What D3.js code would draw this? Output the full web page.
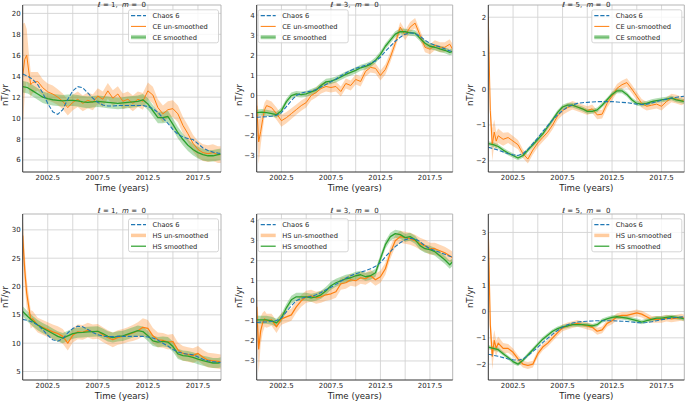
<!DOCTYPE html>
<html><head><meta charset="utf-8">
<script src="https://cdn.jsdelivr.net/npm/d3@7"></script>
<style>
body{margin:0;background:#fff;}
svg{display:block;font-family:"DejaVu Sans",sans-serif;}
text{white-space:pre;}
</style>
</head><body>
<svg id="c" width="685" height="401"></svg>
<script>
// ---------------- DATA ----------------
const tS = [2000,2000.5,2001,2001.5,2002,2002.5,2003,2003.5,2004,2004.5,
  2005,2005.5,2006,2006.5,2007,2007.5,2008,2008.5,2009,2009.5,
  2010,2010.5,2011,2011.5,2012,2012.5,2013,2013.5,2014,2014.5,
  2015,2015.5,2016,2016.5,2017,2017.5,2018,2018.5,2019,2019.5,2019.8];
const tU = [2000,2000.2,2000.4,2000.6,2000.8,
  2001,2001.5,2002,2002.5,2003,2003.5,2004,2004.5,2005,2005.5,
  2006,2006.5,2007,2007.5,2008,2008.5,2009,2009.5,2010,2010.5,
  2011,2011.5,2012,2012.5,2013,2013.5,2014,2014.5,2015,2015.5,
  2016,2016.5,2017,2017.5,2018,2018.5,2019,2019.5,2019.8];

const xTickLabels = [2002.5, 2007.5, 2012.5, 2017.5];
const xGridYears = [2002.5, 2005, 2007.5, 2010, 2012.5, 2015, 2017.5];

// Chaos 6 model
const chaosL1 = [14.2,14.0,13.7,13.2,12.4,11.4,10.6,10.35,10.8,11.8,
  12.6,13.0,12.9,12.4,11.9,11.5,11.25,11.15,11.15,11.2,
  11.2,11.2,11.2,11.2,11.2,11.1,10.9,10.55,10.0,9.5,
  8.9,8.45,8.2,8.05,7.95,7.55,7.15,6.9,6.75,6.65,6.6];
const chaosL3 = [-1.08,-1.06,-1.05,-1.03,-0.98,-0.85,-0.55,-0.25,0.0,0.12,
  0.18,0.22,0.3,0.42,0.55,0.68,0.82,0.98,1.12,1.25,
  1.35,1.43,1.5,1.6,1.72,1.9,2.2,2.45,2.7,2.9,
  3.05,3.12,3.08,2.95,2.75,2.6,2.5,2.42,2.32,2.22,2.18];
const chaosL5 = [-1.62,-1.66,-1.7,-1.75,-1.8,-1.83,-1.85,-1.8,-1.68,-1.52,
  -1.36,-1.18,-1.02,-0.86,-0.72,-0.6,-0.5,-0.44,-0.4,-0.38,
  -0.37,-0.36,-0.35,-0.35,-0.35,-0.35,-0.36,-0.37,-0.38,-0.4,
  -0.42,-0.43,-0.42,-0.39,-0.35,-0.31,-0.28,-0.25,-0.23,-0.21,-0.2];

// CE (top row)
const ceRawL1 = [14.0,15.6,16.0,14.5,13.2,
  13.4,13.5,12.9,12.5,12.3,12.0,11.6,11.0,11.5,11.8,
  11.4,11.7,11.5,12.1,11.8,12.6,11.9,12.3,11.6,11.8,
  11.4,11.8,11.6,12.6,12.2,11.0,10.4,10.8,10.9,10.4,
  9.3,8.5,7.6,7.0,6.7,6.6,6.7,6.5,6.5];
const ceRawErrL1 = [5.0,3.5,2.5,1.8,1.2,
  1.0,0.9,0.8,0.8,0.8,0.75,0.75,0.75,0.75,0.75,
  0.75,0.75,0.75,0.75,0.75,0.75,0.75,0.75,0.75,0.75,
  0.75,0.75,0.8,0.8,0.8,0.8,0.8,0.8,0.8,0.8,
  0.8,0.8,0.8,0.8,0.8,0.8,0.8,0.8,0.8];
const ceSmoothL1 = [13.0,12.9,12.6,12.3,12.0,11.85,11.75,11.7,11.65,11.7,
  11.7,11.65,11.55,11.5,11.55,11.6,11.55,11.5,11.45,11.4,
  11.45,11.5,11.55,11.6,11.75,11.35,10.7,10.05,10.05,10.15,
  9.4,8.6,7.95,7.4,7.0,6.7,6.5,6.4,6.4,6.5,6.55];

const ceRawL3 = [-0.5,-2.3,-1.8,-1.2,-0.7,
  -0.5,-0.6,-0.9,-1.25,-1.1,-0.9,-0.7,-0.5,-0.35,0.0,
  0.15,0.35,0.45,0.4,0.45,0.2,0.6,0.5,0.8,0.7,
  1.2,1.4,1.35,1.0,1.3,1.9,2.6,3.4,3.0,3.4,
  3.6,3.0,2.4,2.3,2.5,2.4,2.4,2.55,2.3];
const ceRawErrL3 = [1.2,1.1,0.7,0.5,0.35,
  0.3,0.3,0.3,0.3,0.28,0.27,0.26,0.25,0.25,0.25,
  0.25,0.25,0.25,0.25,0.25,0.25,0.25,0.25,0.25,0.25,
  0.25,0.25,0.25,0.25,0.25,0.25,0.25,0.25,0.25,0.25,
  0.25,0.25,0.25,0.25,0.25,0.25,0.25,0.25,0.25];
const ceSmoothL3 = [-0.85,-0.82,-0.85,-0.9,-0.95,-0.75,-0.3,0.0,0.08,0.05,
  0.08,0.18,0.27,0.5,0.68,0.72,0.8,0.92,1.05,1.15,
  1.25,1.38,1.45,1.55,1.75,2.05,2.45,2.75,3.05,3.18,
  3.17,3.12,3.1,2.85,2.6,2.45,2.4,2.32,2.25,2.15,2.2];

const ceRawL5 = [2.0,-0.6,-1.55,-1.2,-1.45,
  -1.3,-1.4,-1.35,-1.45,-1.55,-1.8,-1.95,-1.7,-1.5,-1.35,
  -1.2,-1.0,-0.75,-0.6,-0.52,-0.45,-0.5,-0.55,-0.6,-0.55,
  -0.72,-0.7,-0.4,-0.2,0.02,0.12,0.18,0.0,-0.2,-0.4,
  -0.48,-0.45,-0.42,-0.48,-0.35,-0.25,-0.28,-0.33,-0.3];
const ceRawErrL5 = [0.3,0.4,0.45,0.35,0.25,
  0.2,0.18,0.15,0.14,0.13,0.12,0.12,0.12,0.12,0.12,
  0.12,0.12,0.12,0.12,0.12,0.12,0.12,0.12,0.12,0.12,
  0.12,0.12,0.12,0.12,0.12,0.12,0.12,0.12,0.12,0.12,
  0.12,0.12,0.12,0.12,0.12,0.12,0.12,0.12,0.12];
const ceSmoothL5 = [-1.52,-1.55,-1.6,-1.7,-1.78,-1.85,-1.92,-1.85,-1.7,-1.55,
  -1.4,-1.25,-1.05,-0.85,-0.65,-0.5,-0.45,-0.45,-0.5,-0.55,
  -0.62,-0.62,-0.58,-0.45,-0.3,-0.15,-0.05,-0.05,-0.15,-0.3,
  -0.4,-0.42,-0.4,-0.35,-0.32,-0.3,-0.28,-0.25,-0.3,-0.33,-0.35];
const ceSmoothErr = [0.55, 0.15, 0.065];

// HS (bottom row)
const hsRawL1 = [29.0,23.0,18.8,16.5,14.2,
  14.3,13.2,12.8,12.4,12.0,11.7,11.2,10.0,11.4,12.0,
  11.9,12.3,12.0,12.1,11.5,11.0,10.6,11.0,11.2,11.5,
  11.8,12.2,12.8,12.6,11.3,10.6,10.5,10.2,10.3,8.8,
  8.2,8.0,7.8,8.2,7.5,7.0,6.9,6.8,6.7];
const hsRawErrL1 = [3.5,3.0,2.5,2.0,1.6,
  1.4,1.3,1.3,1.3,1.3,1.3,1.3,1.3,1.3,1.3,
  1.3,1.3,1.3,1.3,1.3,1.3,1.3,1.3,1.3,1.3,
  1.4,1.5,1.6,1.5,1.4,1.3,1.3,1.3,1.3,1.3,
  1.3,1.3,1.3,1.3,1.3,1.3,1.3,1.3,1.3];
const hsSmoothL1 = [15.6,14.7,13.9,13.2,12.65,12.2,11.7,11.2,10.9,11.3,
  11.7,11.85,11.9,12.0,12.05,12.1,11.7,11.2,11.0,11.2,
  11.3,11.6,11.9,12.2,12.05,11.3,10.4,10.2,10.3,10.2,
  9.4,8.1,7.8,7.7,7.5,7.2,6.9,6.7,6.5,6.5,6.6];

const hsRawL3 = [-0.3,-2.4,-1.5,-1.1,-0.9,
  -1.0,-0.95,-1.3,-0.9,-0.8,-0.7,-0.3,0.0,0.2,0.25,
  0.15,0.2,0.3,0.35,0.45,0.85,0.9,1.05,1.0,1.15,
  1.1,1.25,1.05,1.2,1.6,2.4,3.0,3.2,3.15,3.1,
  3.0,2.85,2.75,2.6,2.6,2.5,2.4,2.25,2.15];
const hsRawErrL3 = [1.3,1.2,0.7,0.5,0.4,
  0.35,0.3,0.3,0.3,0.3,0.3,0.3,0.3,0.3,0.3,
  0.3,0.3,0.3,0.3,0.3,0.3,0.3,0.3,0.3,0.3,
  0.3,0.3,0.3,0.3,0.3,0.3,0.3,0.3,0.3,0.3,
  0.3,0.3,0.3,0.3,0.3,0.3,0.3,0.3,0.3];
const hsSmoothL3 = [-0.95,-0.95,-0.95,-1.0,-1.1,-0.85,-0.35,0.05,0.2,0.2,
  0.2,0.15,0.2,0.3,0.5,0.75,0.9,1.0,1.1,1.15,
  1.25,1.3,1.2,1.25,1.4,2.1,2.8,3.2,3.35,3.3,
  3.15,3.2,3.05,2.75,2.6,2.55,2.45,2.25,2.05,1.8,1.95];

const hsRawL5 = [3.0,-0.5,-1.7,-1.1,-1.4,
  -1.2,-1.4,-1.4,-1.55,-1.8,-2.0,-2.05,-2.0,-1.6,-1.35,
  -1.2,-1.0,-0.8,-0.62,-0.55,-0.5,-0.45,-0.5,-0.55,-0.6,
  -0.75,-0.7,-0.45,-0.35,-0.2,-0.15,-0.15,-0.1,-0.05,-0.1,
  -0.2,-0.3,-0.3,-0.3,-0.25,-0.28,-0.25,-0.22,-0.25];
const hsRawErrL5 = [0.3,0.45,0.5,0.4,0.3,
  0.25,0.2,0.17,0.15,0.14,0.13,0.13,0.13,0.13,0.13,
  0.13,0.13,0.13,0.13,0.13,0.13,0.13,0.13,0.13,0.13,
  0.13,0.13,0.13,0.13,0.13,0.13,0.13,0.13,0.13,0.13,
  0.13,0.13,0.13,0.13,0.13,0.13,0.13,0.13,0.13];
const hsSmoothL5 = [-1.35,-1.4,-1.45,-1.6,-1.75,-1.9,-2.0,-1.85,-1.65,-1.45,
  -1.25,-1.05,-0.9,-0.75,-0.65,-0.58,-0.55,-0.5,-0.5,-0.5,
  -0.52,-0.55,-0.5,-0.35,-0.28,-0.22,-0.2,-0.22,-0.25,-0.3,
  -0.35,-0.4,-0.35,-0.3,-0.25,-0.25,-0.22,-0.2,-0.22,-0.25,-0.28];
const hsSmoothErr = [0.9, 0.2, 0.08];

const yTicksTopL1 = [6,8,10,12,14,16,18,20];
const yTicksTopL3 = [-3,-2,-1,0,1,2,3,4];
const yTicksTopL5 = [-2,-1,0,1,2];
const yTicksBotL1 = [5,10,15,20,25,30];
const yTicksBotL3 = [-3,-2,-1,0,1,2,3,4];
const yTicksBotL5 = [-2,-1,0,1,2,3];

const degrees = [1, 3, 5];
const legendCE = ["Chaos 6", "CE un-smoothed", "CE smoothed"];
const legendHS = ["Chaos 6", "HS un-smoothed", "HS smoothed"];

// ---------------- LAYOUT ----------------
const colX = [[22.7,221],[256.7,452.7],[488.3,684.3]];
const rowY = [[5,172],[214,380]];
const titleBase = [6.5, 213.3];
const C = {blue:"#1f77b4", orange:"#ff7f0e", green:"#2ca02c", text:"#262626"};
const DASH = "4.2,1.8";

const panels = [
  {r:0,c:0,chaos:chaosL1,raw:ceRawL1,rawErr:ceRawErrL1,sm:ceSmoothL1,smErr:ceSmoothErr[0],yDom:[4.85,20.8],ticks:yTicksTopL1,leg:"right"},
  {r:0,c:1,chaos:chaosL3,raw:ceRawL3,rawErr:ceRawErrL3,sm:ceSmoothL3,smErr:ceSmoothErr[1],yDom:[-3.8,4.5],ticks:yTicksTopL3,leg:"left"},
  {r:0,c:2,chaos:chaosL5,raw:ceRawL5,rawErr:ceRawErrL5,sm:ceSmoothL5,smErr:ceSmoothErr[2],yDom:[-2.31,2.34],ticks:yTicksTopL5,leg:"right"},
  {r:1,c:0,chaos:chaosL1,raw:hsRawL1,rawErr:hsRawErrL1,sm:hsSmoothL1,smErr:hsSmoothErr[0],yDom:[3.5,32.8],ticks:yTicksBotL1,leg:"right"},
  {r:1,c:1,chaos:chaosL3,raw:hsRawL3,rawErr:hsRawErrL3,sm:hsSmoothL3,smErr:hsSmoothErr[1],yDom:[-3.95,4.33],ticks:yTicksBotL3,leg:"left"},
  {r:1,c:2,chaos:chaosL5,raw:hsRawL5,rawErr:hsRawErrL5,sm:hsSmoothL5,smErr:hsSmoothErr[2],yDom:[-2.6,3.7],ticks:yTicksBotL5,leg:"right"}
];

const svg = d3.select("#c");
svg.append("rect").attr("width",685).attr("height",401).attr("fill","#fff");
const fmtY = d => (d < 0 ? "\u2212" + Math.abs(d) : String(d));

panels.forEach((p, i) => {
  const [x0, x1] = colX[p.c], [y0, y1] = rowY[p.r];
  const x = d3.scaleLinear().domain(d3.extent(tS)).range([x0, x1]);
  const y = d3.scaleLinear().domain(p.yDom).range([y1, y0]);
  const g = svg.append("g");
  const clipId = "clip" + i;
  svg.append("clipPath").attr("id", clipId).append("rect")
    .attr("x", x0).attr("y", y0).attr("width", x1 - x0).attr("height", y1 - y0);

  // grid
  const grid = g.append("g").attr("stroke", "#d4d4d4").attr("stroke-width", 0.9);
  xGridYears.forEach(v => grid.append("line").attr("x1", x(v)).attr("x2", x(v)).attr("y1", y0).attr("y2", y1));
  p.ticks.forEach(v => grid.append("line").attr("x1", x0).attr("x2", x1).attr("y1", y(v)).attr("y2", y(v)));

  const plot = g.append("g").attr("clip-path", `url(#${clipId})`);
  const rawIdx = d3.range(tU.length), smIdx = d3.range(tS.length);
  const rawArea = d3.area().x(k => x(tU[k])).y0(k => y(p.raw[k] - p.rawErr[k])).y1(k => y(p.raw[k] + p.rawErr[k]));
  const smArea = d3.area().x(k => x(tS[k])).y0(k => y(p.sm[k] - p.smErr)).y1(k => y(p.sm[k] + p.smErr));
  const rawLine = d3.line().x(k => x(tU[k])).y(k => y(p.raw[k]));
  const smLine = d3.line().x(k => x(tS[k])).y(k => y(p.sm[k]));
  const chLine = d3.line().x(k => x(tS[k])).y(k => y(p.chaos[k]));

  plot.append("path").attr("d", rawArea(rawIdx)).attr("fill", C.orange).attr("fill-opacity", 0.3);
  plot.append("path").attr("d", smArea(smIdx)).attr("fill", C.green).attr("fill-opacity", 0.35);
  plot.append("path").attr("d", rawLine(rawIdx)).attr("fill", "none").attr("stroke", C.orange)
    .attr("stroke-width", p.r === 0 ? 1 : 1.2).attr("stroke-linejoin", "round");
  plot.append("path").attr("d", smLine(smIdx)).attr("fill", "none").attr("stroke", C.green)
    .attr("stroke-width", 1.3).attr("stroke-linejoin", "round");
  plot.append("path").attr("d", chLine(smIdx)).attr("fill", "none").attr("stroke", C.blue)
    .attr("stroke-width", 1.1).attr("stroke-dasharray", DASH);

  // frame
  g.append("line").attr("x1", x0).attr("x2", x1).attr("y1", y0).attr("y2", y0).attr("stroke", "#b5b5b5");
  g.append("line").attr("x1", x1).attr("x2", x1).attr("y1", y0).attr("y2", y1).attr("stroke", "#b5b5b5");
  g.append("line").attr("x1", x0).attr("x2", x0).attr("y1", y0).attr("y2", y1).attr("stroke", "#333");
  g.append("line").attr("x1", x0).attr("x2", x1).attr("y1", y1).attr("y2", y1).attr("stroke", "#333");

  // tick labels
  xTickLabels.forEach(v => g.append("text").attr("x", x(v)).attr("y", y1 + 7.8)
    .attr("text-anchor", "middle").attr("font-size", 7).attr("fill", C.text).text(v.toFixed(1)));
  p.ticks.forEach(v => g.append("text").attr("x", x0 - 2).attr("y", y(v) + 2.5)
    .attr("text-anchor", "end").attr("font-size", 7).attr("fill", C.text).text(fmtY(v)));

  // axis labels
  g.append("text").attr("x", (x0 + x1) / 2).attr("y", y1 + 19.3).attr("text-anchor", "middle")
    .attr("font-size", 8.6).attr("fill", C.text).text("Time (years)");
  const ly = p.r === 0 ? 95 : (y0 + y1) / 2;
  g.append("text").attr("transform", `translate(${x0 - 15.2},${ly}) rotate(-90)`).attr("text-anchor", "middle")
    .attr("font-size", 8.6).attr("fill", C.text).text("nT/yr");

  // title
  const t = g.append("text").attr("x", (x0 + x1) / 2).attr("y", titleBase[p.r]).attr("text-anchor", "middle")
    .attr("font-size", 7).attr("fill", C.text);
  t.append("tspan").attr("font-style", "italic").text("\u2113");
  t.append("tspan").text(" = " + degrees[p.c] + ",  ");
  t.append("tspan").attr("font-style", "italic").text("m");
  t.append("tspan").text(" =  0");

  // legend
  const lw = 90, lh = 33;
  const lx = p.leg === "right" ? x1 - 2.5 - lw : x0 + 1.5;
  const lyTop = y0 + 4.8;
  const lg = g.append("g");
  lg.append("rect").attr("x", lx).attr("y", lyTop).attr("width", lw).attr("height", lh).attr("rx", 2)
    .attr("fill", "#fff").attr("fill-opacity", 0.8).attr("stroke", "#cccccc").attr("stroke-width", 0.8);
  const labels = p.r === 0 ? legendCE : legendHS;
  labels.forEach((lab, k) => {
    const cy = lyTop + 5.8 + k * 10.8;
    const hx0 = lx + 2.5, hx1 = lx + 17.5;
    if (k === 0) {
      lg.append("line").attr("x1", hx0).attr("x2", hx1).attr("y1", cy).attr("y2", cy)
        .attr("stroke", C.blue).attr("stroke-width", 1.1).attr("stroke-dasharray", DASH);
    } else if (p.r === 0 && k === 1) {
      lg.append("line").attr("x1", hx0).attr("x2", hx1).attr("y1", cy).attr("y2", cy)
        .attr("stroke", C.orange).attr("stroke-width", 1);
    } else if (p.r === 0 && k === 2) {
      lg.append("line").attr("x1", hx0).attr("x2", hx1).attr("y1", cy).attr("y2", cy)
        .attr("stroke", C.green).attr("stroke-opacity", 0.45).attr("stroke-width", 4);
      lg.append("line").attr("x1", hx0).attr("x2", hx1).attr("y1", cy).attr("y2", cy)
        .attr("stroke", C.green).attr("stroke-opacity", 0.5).attr("stroke-width", 1.2);
    } else if (k === 1) {
      lg.append("line").attr("x1", hx0).attr("x2", hx1).attr("y1", cy).attr("y2", cy)
        .attr("stroke", C.orange).attr("stroke-opacity", 0.4).attr("stroke-width", 3.5);
    } else {
      lg.append("line").attr("x1", hx0).attr("x2", hx1).attr("y1", cy).attr("y2", cy)
        .attr("stroke", C.green).attr("stroke-width", 1.2);
    }
    lg.append("text").attr("x", lx + 24).attr("y", cy + 2.4).attr("font-size", 6.7).attr("fill", C.text).text(lab);
  });
});
</script>
</body></html>
